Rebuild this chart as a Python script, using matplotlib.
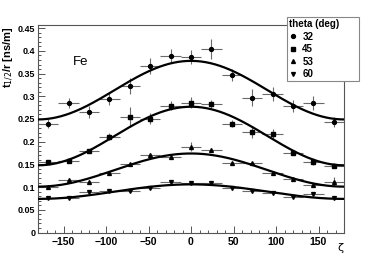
import numpy as np
import matplotlib
matplotlib.use("Agg")
import matplotlib.pyplot as plt
from matplotlib.ticker import MultipleLocator

# ---- data ----
zeta = [-168, -144, -120, -96, -72, -48, -24, 0, 24, 48, 72, 96, 120, 144, 168]
zeta_err = 12

theta_labels = ["32", "45", "53", "60"]
markers = ["o", "s", "^", "v"]

y32 = [0.240, 0.286, 0.265, 0.294, 0.323, 0.367, 0.389, 0.386, 0.404, 0.347, 0.297, 0.305, 0.279, 0.285, 0.244]
e32 = [0.009, 0.011, 0.013, 0.013, 0.018, 0.018, 0.015, 0.015, 0.022, 0.013, 0.018, 0.015, 0.013, 0.015, 0.011]
y45 = [0.155, 0.158, 0.180, 0.211, 0.254, 0.251, 0.279, 0.286, 0.283, 0.240, 0.221, 0.217, 0.176, 0.156, 0.147]
e45 = [0.005, 0.005, 0.005, 0.008, 0.022, 0.012, 0.010, 0.012, 0.008, 0.008, 0.012, 0.010, 0.006, 0.008, 0.006]
y53 = [0.101, 0.116, 0.111, 0.130, 0.150, 0.171, 0.167, 0.189, 0.182, 0.152, 0.152, 0.130, 0.117, 0.105, 0.112]
e53 = [0.004, 0.004, 0.004, 0.004, 0.004, 0.004, 0.006, 0.010, 0.004, 0.004, 0.004, 0.004, 0.004, 0.004, 0.010]
y60 = [0.077, 0.077, 0.090, 0.092, 0.092, 0.099, 0.111, 0.110, 0.110, 0.097, 0.091, 0.086, 0.079, 0.085, 0.075]
e60 = [0.003, 0.003, 0.003, 0.003, 0.003, 0.003, 0.003, 0.003, 0.003, 0.003, 0.003, 0.003, 0.003, 0.003, 0.003]

series_y = [y32, y45, y53, y60]
series_e = [e32, e45, e53, e60]

# fit parameters: value at zeta=+-180 and at zeta=0
fit_base = [0.249, 0.148, 0.101, 0.074]
fit_peak = [0.378, 0.277, 0.174, 0.106]

xticks = [-150, -100, -50, 0, 50, 100, 150]
yticks = [0, 0.05, 0.1, 0.15, 0.2, 0.25, 0.3, 0.35, 0.4, 0.45]
yticklabels = ["0", "0.05", "0.1", "0.15", "0.2", "0.25", "0.3", "0.35", "0.4", "0.45"]

# ---- figure ----
W, H = 382, 259
fig = plt.figure(figsize=(W / 100, H / 100), dpi=100)
ax = fig.add_axes([38 / W, (H - 232.5) / H, (344 - 38) / W, (232.5 - 25) / H])

FONT = "Liberation Sans"
msizes = {"o": 2.8, "s": 2.5, "^": 2.8, "v": 2.8}
handles = []
for ys, es, m in zip(series_y, series_e, markers):
    ax.errorbar(zeta, ys, xerr=zeta_err, yerr=es, fmt="none",
                ecolor="#6a6a6a", elinewidth=0.8, capsize=0, zorder=2)
    h, = ax.plot(zeta, ys, linestyle="none", marker=m, color="black",
                 markersize=msizes[m], zorder=4)
    handles.append(h)

zz = np.linspace(-180, 180, 400)
for b, p in zip(fit_base, fit_peak):
    ax.plot(zz, b + (p - b) * (1 + np.cos(np.radians(zz))) / 2,
            color="black", linewidth=1.6, zorder=3)

ax.set_xlim(-180, 180)
ax.set_ylim(0, 0.457)
ax.set_xticks(xticks)
ax.set_xticklabels([str(t).replace("-", "\u2212") for t in xticks],
                   fontfamily=FONT, fontweight="bold", fontsize=7.5)
ax.set_yticks(yticks)
ax.set_yticklabels(yticklabels, fontfamily=FONT, fontweight="bold", fontsize=6.5)
ax.xaxis.set_minor_locator(MultipleLocator(10))
ax.yaxis.set_minor_locator(MultipleLocator(0.01))
ax.tick_params(which="both", direction="in", top=False, right=False,
               color="#555555", width=0.7)
ax.tick_params(axis="x", which="major", length=5, pad=3)
ax.tick_params(axis="x", which="minor", length=2.5)
ax.tick_params(axis="y", which="major", length=5, pad=2)
ax.tick_params(axis="y", which="minor", length=2.5)
for s in ax.spines.values():
    s.set_color("#555555")
    s.set_linewidth(0.8)

ax.text(-139, 0.375, "Fe", fontfamily=FONT, fontsize=9.5, va="center", ha="left")

fig.text(9 / W, 1 - 26 / H, r"t$_{1/2}$/r [ns/m]", rotation=90, ha="center", va="top",
         fontfamily=FONT, fontweight="bold", fontsize=8)
fig.text(340 / W, 1 - 248 / H, "\u03b6", ha="center", va="center",
         fontfamily="DejaVu Sans", fontsize=8)

x0, x1 = 286.7 / W, 359.3 / W
ytop, ybot = 1 - 17.3 / H, 1 - 77.3 / H
leg = ax.legend(handles, theta_labels, title="theta (deg)",
                bbox_to_anchor=(x0, ybot, x1 - x0, ytop - ybot),
                bbox_transform=fig.transFigure, loc="upper left", mode="expand",
                borderaxespad=0, borderpad=0.2, labelspacing=0.25,
                handlelength=0.8, handletextpad=0.6, alignment="left",
                fancybox=False, framealpha=1, edgecolor="#888888",
                prop={"family": FONT, "weight": "bold", "size": 7},
                title_fontproperties={"family": FONT, "weight": "bold", "size": 7})
leg.get_frame().set_linewidth(0.8)
leg.set_zorder(10)

fig.savefig("out.png", dpi=100)
